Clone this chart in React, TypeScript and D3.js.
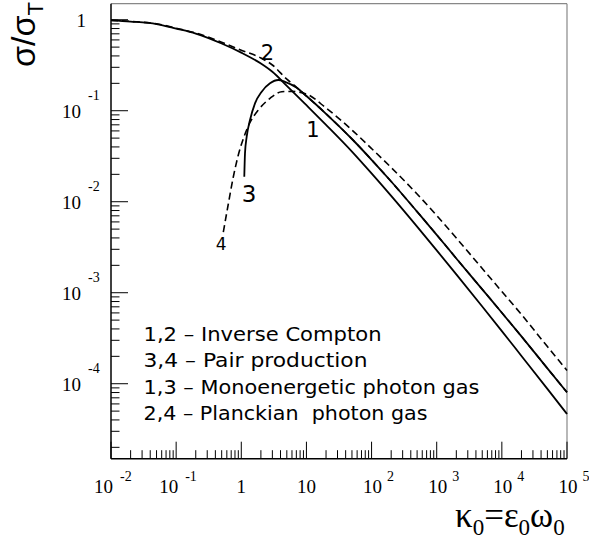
import React from 'react';
import * as d3 from 'd3';

// ---------- data (kappa0 = eps0*omega0, sigma/sigma_T) ----------
// 1: Inverse Compton, monoenergetic photon gas (solid)
const k1 = [0.01, 0.02, 0.05, 0.1, 0.2, 0.5, 1, 2, 3, 5, 10, 20, 50, 100, 200, 500, 1e3, 2e3, 5e3, 1e4, 2e4, 5e4, 1e5];
const s1 = [0.985, 0.955, 0.897, 0.8, 0.705, 0.548, 0.435, 0.33, 0.268, 0.188, 0.115, 0.07, 0.0356, 0.0205, 0.0116, 0.00533, 0.00292, 0.00159, 0.000705, 0.000379, 0.000202, 0.0000878, 0.0000465];

// 2: Inverse Compton, Planckian photon gas (dashed)
const k2 = [0.01, 0.02, 0.05, 0.1, 0.2, 0.5, 1, 2, 3, 5, 7, 10, 20, 50, 100, 200, 500, 1e3, 2e3, 5e3, 1e4, 2e4, 5e4, 1e5];
const s2 = [0.985, 0.958, 0.902, 0.808, 0.715, 0.565, 0.462, 0.38, 0.318, 0.222, 0.182, 0.145, 0.0925, 0.0489, 0.0289, 0.01667, 0.00778, 0.00433, 0.00238, 0.00109, 0.000603, 0.000331, 0.0001476, 0.0000804];

// 3: Pair production, monoenergetic photon gas (solid)
const k3 = [1.112, 1.14, 1.211, 1.361, 1.624, 2.058, 2.76, 3.7, 4.69, 7, 10, 20, 50, 100, 200, 500, 1e3, 2e3, 5e3, 1e4, 2e4, 5e4, 1e5];
const s3 = [0.0188, 0.034, 0.0518, 0.079, 0.1206, 0.162, 0.2, 0.2175, 0.208, 0.18, 0.145, 0.0925, 0.0489, 0.0289, 0.01667, 0.00778, 0.00433, 0.00238, 0.00109, 0.000603, 0.000331, 0.0001476, 0.0000804];

// 4: Pair production, Planckian photon gas (dashed)
const k4 = [0.53, 0.632, 0.754, 0.9, 1.101, 1.361, 1.825, 2.76, 4.17, 6, 10, 20, 50, 100, 200, 500, 1e3, 2e3, 5e3, 1e4, 2e4, 5e4, 1e5];
const s4 = [0.00464, 0.00944, 0.01868, 0.0326, 0.0518, 0.0742, 0.1018, 0.1368, 0.1618, 0.163, 0.1526, 0.1071, 0.0614, 0.0384, 0.02375, 0.01215, 0.00705, 0.00399, 0.001845, 0.001031, 0.000576, 0.000256, 0.0001397];

const xMajor = [1e-2, 1e-1, 1, 10, 1e2, 1e3, 1e4, 1e5];
const xMain = ['10', '10', '1', '10', '10', '10', '10', '10'];
const xExp = ['-2', '-1', '', '', '2', '3', '4', '5'];

const yMajor = [1, 1e-1, 1e-2, 1e-3, 1e-4];
const yMain = ['1', '10', '10', '10', '10'];
const yExp = ['', '-1', '-2', '-3', '-4'];

const legendLines = [
  '1,2 \u2013 Inverse Compton',
  '3,4 \u2013 Pair production',
  '1,3 \u2013 Monoenergetic photon gas',
  '2,4 \u2013 Planckian  photon gas',
];
const legendWidths = [238, 224, 336, 284];

const curveLabels = ['1', '2', '3', '4'];
// label anchor (baseline-centre) in data coordinates
const curveLabelAt: [number, number][] = [[12.6, 0.0518], [2.53, 0.361], [1.314, 0.01], [0.489, 0.00294]];

const zip = (a: number[], b: number[]) => a.map((v, i) => [v, b[i]] as [number, number]);

export default function App() {
  const W = 589, H = 542;
  const L = 111, R = 567, T = 3.7, B = 458.7;
  const x = d3.scaleLog().domain([1e-2, 1e5]).range([L, R]);
  const y = d3.scaleLog().domain([1.5e-5, 1.5]).range([B, T]);
  const line = d3.line<[number, number]>().x(d => x(d[0])).y(d => y(d[1])).curve(d3.curveMonotoneX);

  const xMinor: number[] = [];
  for (let e = -2; e < 5; e++) for (let m = 2; m <= 9; m++) xMinor.push(m * Math.pow(10, e));
  const yMinor: number[] = [];
  for (let e = -5; e < 1; e++) for (let m = 2; m <= 9; m++) {
    const v = m * Math.pow(10, e);
    if (v >= 1.5e-5 && v <= 1.5) yMinor.push(v);
  }

  const serif = 'Liberation Serif, Times New Roman, serif';
  const sans = 'DejaVu Sans, sans-serif';
  const lsans = 'Liberation Sans, Arial, sans-serif';

  return (
    <svg width={W} height={H} style={{ position: 'absolute', left: 0, top: 0, background: '#fff' }}>
      <rect x={0} y={0} width={W} height={H} fill="#fff" />
      {/* frame */}
      <line x1={L} y1={T} x2={R} y2={T} stroke="#888" strokeWidth={1.2} />
      <line x1={R} y1={T} x2={R} y2={B} stroke="#888" strokeWidth={1.2} />
      {/* curves */}
      <path d={line(zip(k1, s1)) || ''} fill="none" stroke="#000" strokeWidth={1.8} />
      <path d={line(zip(k3, s3)) || ''} fill="none" stroke="#000" strokeWidth={1.8} />
      <path d={line(zip(k2, s2)) || ''} fill="none" stroke="#000" strokeWidth={1.6} strokeDasharray="7 4" />
      <path d={line(zip(k4, s4)) || ''} fill="none" stroke="#000" strokeWidth={1.6} strokeDasharray="7 4" />
      {/* axes */}
      <line x1={L} y1={T} x2={L} y2={B} stroke="#000" strokeWidth={1.5} />
      <line x1={L} y1={B} x2={R} y2={B} stroke="#000" strokeWidth={1.5} />
      {xMajor.map((v, i) => (
        <line key={'xM' + i} x1={x(v)} x2={x(v)} y1={B} y2={B - 17} stroke="#000" strokeWidth={1} />
      ))}
      {xMinor.map((v, i) => (
        <line key={'xm' + i} x1={x(v)} x2={x(v)} y1={B} y2={B - 8.5} stroke="#000" strokeWidth={1} />
      ))}
      {yMajor.map((v, i) => (
        <line key={'yM' + i} x1={L} x2={L + 17} y1={y(v)} y2={y(v)} stroke="#000" strokeWidth={1} />
      ))}
      {yMinor.map((v, i) => (
        <line key={'ym' + i} x1={L} x2={L + 8.5} y1={y(v)} y2={y(v)} stroke="#000" strokeWidth={1} />
      ))}
      {/* x tick labels */}
      {xMajor.map((v, i) => {
        const px = x(v);
        const e = xExp[i];
        if (!e) {
          return (
            <text key={'xl' + i} x={px} y={493} fontFamily={serif} fontSize={19} textAnchor="middle">{xMain[i]}</text>
          );
        }
        const neg = e.startsWith('-');
        return (
          <g key={'xl' + i}>
            <text x={neg ? px - 7.5 : px + 1} y={493} fontFamily={serif} fontSize={19} textAnchor="middle">{xMain[i]}</text>
            <text x={neg ? px + 9 : px + 15.5} y={481} fontFamily={serif} fontSize={14}>{e}</text>
          </g>
        );
      })}
      {/* y tick labels */}
      {yMajor.map((v, i) => {
        const py = y(v);
        const e = yExp[i];
        if (!e) {
          return (
            <text key={'yl' + i} x={86} y={py + 7} fontFamily={serif} fontSize={19} textAnchor="end">{yMain[i]}</text>
          );
        }
        return (
          <g key={'yl' + i}>
            <text x={81} y={py + 7.5} fontFamily={serif} fontSize={19} textAnchor="end">{yMain[i]}</text>
            <text x={88} y={py - 10.5} fontFamily={serif} fontSize={14}>{e}</text>
          </g>
        );
      })}
      {/* axis titles */}
      <text transform="translate(35,67) rotate(-90)" fontFamily={lsans} fontSize={34}>
        σ/σ<tspan fontSize={22} dy={8}>T</tspan>
      </text>
      <text x={455} y={527} fontFamily={serif} fontSize={35}>
        κ<tspan fontSize={23} dy={8}>0</tspan><tspan dy={-8}>=ε</tspan><tspan fontSize={23} dy={8}>0</tspan><tspan dy={-8}>ω</tspan><tspan fontSize={23} dy={8}>0</tspan>
      </text>
      {/* legend */}
      {legendLines.map((t, i) => (
        <text key={'lg' + i} x={143.5} y={341 + i * 26.3} fontFamily={sans} fontSize={19}
          textLength={legendWidths[i]} lengthAdjust="spacingAndGlyphs" style={{ whiteSpace: 'pre' }}>{t}</text>
      ))}
      {/* curve labels */}
      {curveLabels.map((t, i) => (
        <text key={'cl' + i} x={x(curveLabelAt[i][0])} y={y(curveLabelAt[i][1])} fontFamily={sans}
          fontSize={i === 3 ? 17 : i === 2 ? 23 : 21} textAnchor="middle">{t}</text>
      ))}
    </svg>
  );
}
